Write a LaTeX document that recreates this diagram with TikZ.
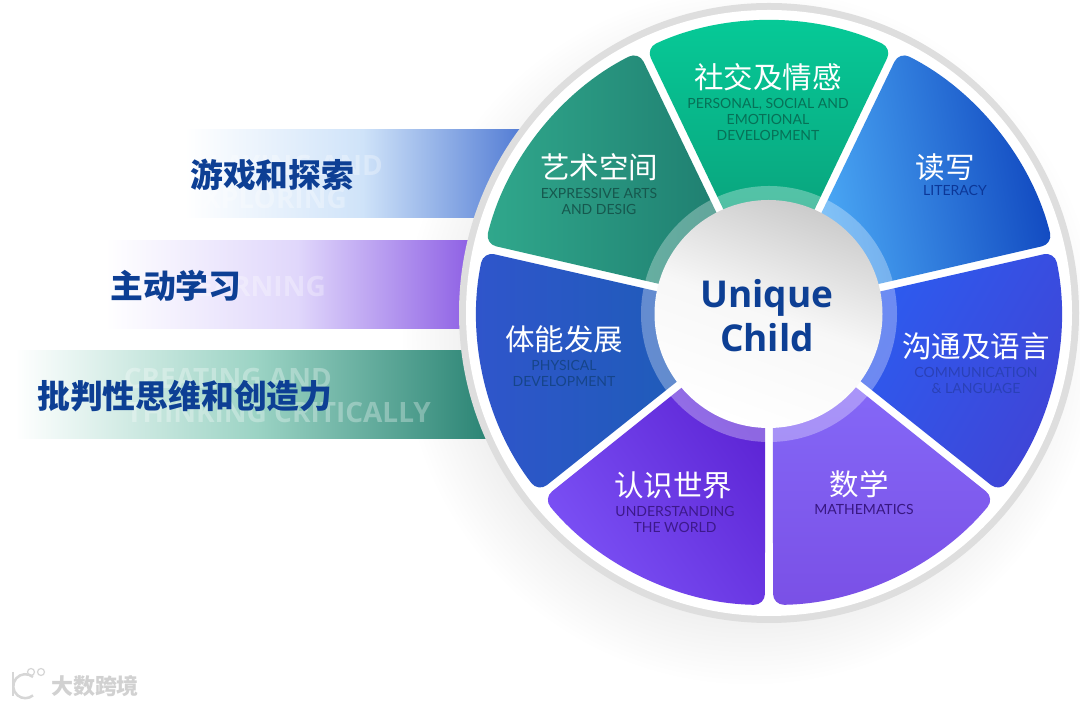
\documentclass[tikz,border=0pt]{standalone}
\usepackage{fontspec}
\setmainfont{Lato}
\newfontfamily\cjk{Noto Sans CJK SC}
\newfontfamily\headfont{Open Sans}
\usetikzlibrary{positioning}
\definecolor{navy}{HTML}{0D3F94}
\definecolor{socialA}{HTML}{06CB98}
\definecolor{socialB}{HTML}{0AA27C}
\definecolor{litA}{HTML}{4BA9F5}
\definecolor{litB}{HTML}{0F45BE}
\definecolor{commA}{HTML}{2C5CF0}
\definecolor{commB}{HTML}{4044D6}
\definecolor{physA}{HTML}{3055CC}
\definecolor{physB}{HTML}{1E5CB8}
\definecolor{worldA}{HTML}{7C52F6}
\definecolor{worldB}{HTML}{5E26D6}
\definecolor{mathA}{HTML}{8569F8}
\definecolor{mathB}{HTML}{7A50E6}
\definecolor{artA}{HTML}{30A88C}
\definecolor{artB}{HTML}{1F7E70}
\definecolor{playA}{HTML}{CFE3F9}
\definecolor{playB}{HTML}{4470D0}
\definecolor{activeA}{HTML}{E0D7FB}
\definecolor{activeB}{HTML}{8553E2}
\definecolor{thinkA}{HTML}{9BD3C4}
\definecolor{thinkB}{HTML}{258070}
\pgfdeclareradialshading{wheelglow}{\pgfpoint{0bp}{0bp}}{
    color(0bp)=(black!6); color(20bp)=(black!6); color(25bp)=(white); color(50bp)=(white)}

\begin{document}
\begin{tikzpicture}[
    x=1pt, y=1pt,
    node distance=7pt and 0pt,
    band/.style={
        inner sep=0pt,
        minimum height=88pt
    },
    ghost/.style={
        white,
        opacity=0.3,
        align=left,
        inner sep=0pt,
        font=\fontsize{28}{32}\selectfont\headfont\bfseries
    },
    skill/.style={
        navy,
        inner sep=0pt,
        font=\fontsize{32.8}{36}\selectfont\cjk\bfseries
    },
    wedge/.style={
        rounded corners=11pt
    },
    title/.style={
        white,
        inner sep=0pt,
        font=\fontsize{29.5}{33}\selectfont\cjk
    },
    subtitle/.style={
        align=center,
        inner sep=0pt,
        font=\fontsize{14}{16}\selectfont
    }
]

\useasboundingbox (0,0) rectangle (1080,706);

% Background
\fill[white] (0,0) rectangle (1080,706);
\shade[shading=wheelglow] (750,370) circle (350);

% Bands
\node (playband) [band, minimum width=355pt, left color=white, right color=playB, middle color=playA] at (362.5,532) {};
\node (activeband) [band, minimum width=385pt, left color=white, right color=activeB, middle color=activeA] at (297.5,421) {};
\node (thinkband) [band, minimum width=485pt, left color=white, right color=thinkB, middle color=thinkA] at (257.5,311) {};

\node (playghostA) [ghost, anchor=east] at (383,540) {PLAYING AND};
\node (playghostB) [ghost, anchor=east] at (347,508) {EXPLORING};
\node (activeghost) [ghost, anchor=east] at (326,419) {LEARNING};
\node (thinkghostA) [ghost, anchor=east] at (332,327) {CREATING AND};
\node (thinkghostB) [ghost, anchor=east] at (431,293) {THINKING CRITICALLY};

% Wheel
\fill[black!13] (769,393) circle (310);
\fill[white] (769,393) circle (303);

\begin{scope}[shift={(769,393)}]
\shade[wedge, top color=mathA, bottom color=mathB] (272.3:95) -- (270.8:292) arc[start angle=270.8, end angle=320.6, radius=292] -- (319.1:95) -- cycle;
\shade[wedge, left color=commA, right color=commB, shading angle=60] (323.7:95) -- (322.2:292) arc[start angle=322.2, end angle=372.1, radius=292] -- (370.6:95) -- cycle;
\shade[wedge, left color=litA, right color=litB, shading angle=100] (15.2:95) -- (13.7:292) arc[start angle=13.7, end angle=63.5, radius=292] -- (62:95) -- cycle;
\shade[wedge, top color=socialA, bottom color=socialB] (66.6:95) -- (65.1:292) arc[start angle=65.1, end angle=114.9, radius=292] -- (113.4:95) -- cycle;
\shade[wedge, left color=artA, right color=artB, shading angle=90] (118:95) -- (116.5:292) arc[start angle=116.5, end angle=166.3, radius=292] -- (164.8:95) -- cycle;
\shade[wedge, left color=physA, right color=physB, shading angle=90] (169.4:95) -- (167.9:292) arc[start angle=167.9, end angle=217.8, radius=292] -- (216.3:95) -- cycle;
\shade[wedge, left color=worldA, right color=worldB, shading angle=125] (220.9:95) -- (219.4:292) arc[start angle=219.4, end angle=269.2, radius=292] -- (267.7:95) -- cycle;
\end{scope}

% Hub
\fill[white, opacity=0.3] (769,392) circle (128);
\shade[top color=black!20, bottom color=white, middle color=black!3, shading angle=-20] (768.5,392) circle (114);

\node (hub) [navy, align=center, inner sep=0pt, font=\fontsize{37}{44}\selectfont\headfont\bfseries] at (767,390) {Unique\\Child};

% Sector labels
\node (social) [title] at (768,629) {社交及情感};
\node (socialsub) [subtitle, below=of social, text=socialB!70!black] {PERSONAL, SOCIAL AND\\EMOTIONAL\\DEVELOPMENT};
\node (literacy) [title] at (945,539) {读写};
\node (literacysub) [subtitle, below=4pt of literacy, xshift=10pt, text=litB!80!black] {LITERACY};
\node (art) [title] at (599,539) {艺术空间};
\node (artsub) [subtitle, below=of art, text=artB!70!black] {EXPRESSIVE ARTS\\AND DESIG};
\node (phys) [title] at (564,367) {体能发展};
\node (physsub) [subtitle, below=of phys, text=physB!75!black] {PHYSICAL\\DEVELOPMENT};
\node (comm) [title] at (976,360) {沟通及语言};
\node (commsub) [subtitle, below=of comm, text=commA!55!commB!80!black] {COMMUNICATION\\\&\ LANGUAGE};
\node (world) [title] at (673,221) {认识世界};
\node (worldsub) [subtitle, below=of world, xshift=2pt, text=worldB!65!black] {UNDERSTANDING\\THE WORLD};
\node (maths) [title] at (859,222) {数学};
\node (mathssub) [subtitle, below=6pt of maths, xshift=5pt, text=worldB!60!black] {MATHEMATICS};

% Skill labels
\node (play) [skill, anchor=west] at (190,531) {游戏和探索};
\node (active) [skill, anchor=west] at (110,420) {主动学习};
\node (think) [skill, anchor=west] at (37,310) {批判性思维和创造力};

% Watermark
\draw[black!16, line width=2.5pt] (13,34) -- (13,10);
\draw[black!16, line width=2.5pt] (33,29) arc[start angle=50, end angle=310, radius=12];
\draw[black!16, line width=1.2pt] (31,34) circle (3.5);
\draw[black!16, line width=1.2pt] (41,34) circle (3.5);
\node (mark) [black!18, inner sep=0pt, font=\fontsize{22}{26}\selectfont\cjk\bfseries] at (95,20) {大数跨境};

\end{tikzpicture}
\end{document}
